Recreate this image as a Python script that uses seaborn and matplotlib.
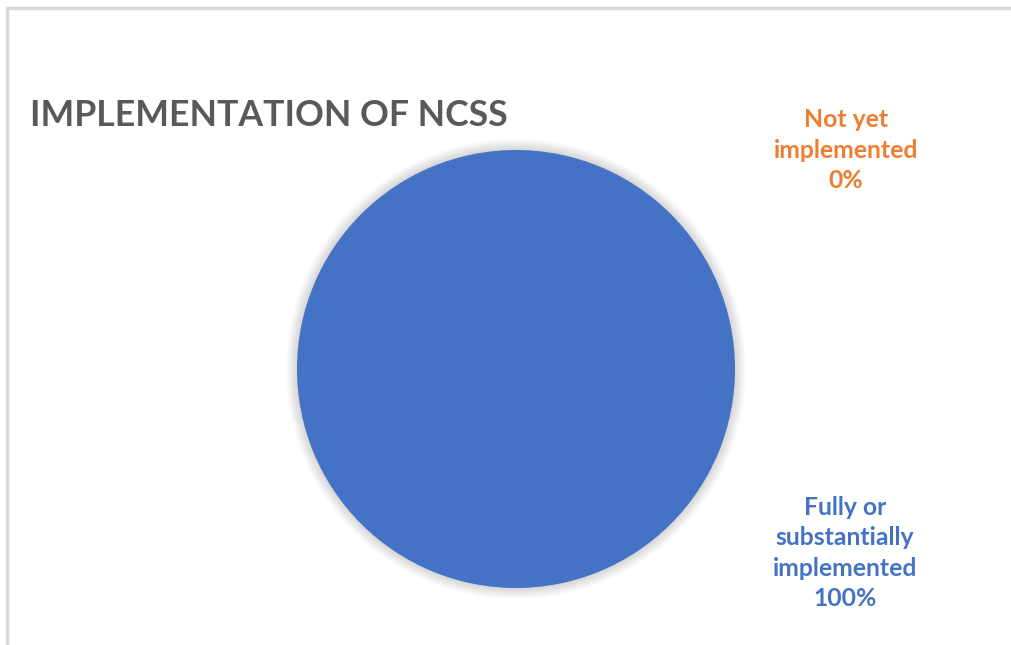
import matplotlib
matplotlib.use("Agg")
import matplotlib.pyplot as plt
import seaborn as sns
from matplotlib.patches import Rectangle

# data
categories = ["Fully or\nsubstantially\nimplemented", "Not yet\nimplemented"]
shares = [100, 0]
colors = ["#4472C4", "#ED7D31"]

sns.set_theme(style="white")
plt.rcParams['font.family'] = ['Lato', 'DejaVu Sans']

fig = plt.figure(figsize=(10.12, 6.45), dpi=100)
fig.patch.set_facecolor("white")

# chart frame (left + top edges visible)
fig.add_artist(Rectangle((7 / 1012, -0.05), 1.1, (645 - 8) / 645 + 0.05,
                         transform=fig.transFigure, fill=False,
                         edgecolor="#d9d9d9", linewidth=2.5))

ax = fig.add_axes([(516 - 219) / 1012, (276 - 219) / 645, 438 / 1012, 438 / 645])

# soft shadow around the pie
for i in range(10):
    ax.pie(shares, radius=1.0 + 0.005 * (i + 1), colors=["#000000", "#000000"],
           startangle=90, counterclock=False,
           wedgeprops=dict(alpha=0.015, linewidth=0))

ax.pie(shares, colors=colors, startangle=90, counterclock=False,
       wedgeprops=dict(linewidth=0))
ax.set_xlim(-1, 1)
ax.set_ylim(-1, 1)
ax.set_aspect("equal")
ax.axis("off")

fig.text(30 / 1012, 1 - 116 / 645, "IMPLEMENTATION OF NCSS", ha="left", va="center",
         fontsize=25.7, fontweight="bold", color="#595959")

labels = [f"{c}\n{v}%" for c, v in zip(categories, shares)]
fig.text(845 / 1012, 1 - 553 / 645, labels[0], ha="center", va="center",
         fontsize=17.8, fontweight="bold", color=colors[0], linespacing=1.38)
fig.text(846 / 1012, 1 - 150 / 645, labels[1], ha="center", va="center",
         fontsize=17.8, fontweight="bold", color=colors[1], linespacing=1.38)

fig.savefig("out.png", dpi=100, facecolor="white")
